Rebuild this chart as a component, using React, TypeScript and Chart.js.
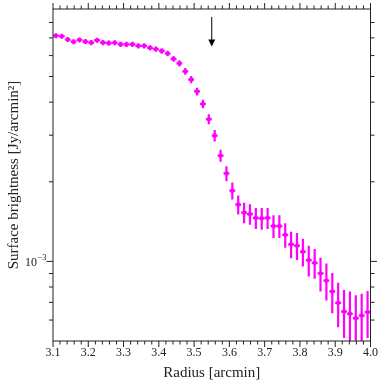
import React, { useEffect, useRef } from 'react';
import { Chart, registerables } from 'chart.js';

Chart.register(...registerables);

// ---- data ----
const RADIUS = [
  3.1083, 3.125, 3.1417, 3.1583, 3.175, 3.1917, 3.2083, 3.225, 3.2417, 3.2583,
  3.275, 3.2917, 3.3083, 3.325, 3.3417, 3.3583, 3.375, 3.3917, 3.4083, 3.425,
  3.4417, 3.4583, 3.475, 3.4917, 3.5083, 3.525, 3.5417, 3.5583, 3.575, 3.5917,
  3.6083, 3.625, 3.6417, 3.6583, 3.675, 3.6917, 3.7083, 3.725, 3.7417, 3.7583,
  3.775, 3.7917, 3.8083, 3.825, 3.8417, 3.8583, 3.875, 3.8917, 3.9083, 3.925,
  3.9417, 3.9583, 3.975, 3.9917,
];
const RADIUS_HALF_BIN = 0.00833;
const BRIGHTNESS = [
  7.13e-3, 7.1e-3, 6.9e-3, 6.77e-3, 6.88e-3, 6.78e-3, 6.72e-3, 6.86e-3, 6.72e-3, 6.69e-3,
  6.71e-3, 6.62e-3, 6.61e-3, 6.62e-3, 6.53e-3, 6.53e-3, 6.42e-3, 6.35e-3, 6.25e-3, 6.11e-3,
  5.83e-3, 5.61e-3, 5.23e-3, 4.87e-3, 4.39e-3, 3.94e-3, 3.45e-3, 2.99e-3, 2.51e-3, 2.15e-3,
  1.85e-3, 1.64e-3, 1.53e-3, 1.51e-3, 1.46e-3, 1.455e-3, 1.46e-3, 1.36e-3, 1.36e-3, 1.26e-3,
  1.16e-3, 1.146e-3, 1.088e-3, 1.011e-3, 0.987e-3, 0.901e-3, 0.846e-3, 0.77e-3, 0.697e-3, 0.646e-3,
  0.634e-3, 0.61e-3, 0.624e-3, 0.643e-3,
];
const BRIGHTNESS_ERR = [
  0.15e-3, 0.15e-3, 0.15e-3, 0.15e-3, 0.15e-3, 0.15e-3, 0.15e-3, 0.15e-3, 0.15e-3, 0.15e-3,
  0.15e-3, 0.15e-3, 0.15e-3, 0.15e-3, 0.15e-3, 0.15e-3, 0.15e-3, 0.15e-3, 0.15e-3, 0.15e-3,
  0.15e-3, 0.15e-3, 0.15e-3, 0.15e-3, 0.148e-3, 0.147e-3, 0.148e-3, 0.15e-3, 0.13e-3, 0.14e-3,
  0.137e-3, 0.135e-3, 0.137e-3, 0.135e-3, 0.133e-3, 0.137e-3, 0.133e-3, 0.135e-3, 0.135e-3, 0.133e-3,
  0.133e-3, 0.133e-3, 0.131e-3, 0.134e-3, 0.128e-3, 0.132e-3, 0.135e-3, 0.133e-3, 0.133e-3, 0.133e-3,
  0.135e-3, 0.134e-3, 0.131e-3, 0.13e-3,
];

const X_MIN = 3.1;
const X_MAX = 4.0;
const Y_MIN = 5e-4;
const Y_MAX = 9e-3;
const X_TICKS = [3.1, 3.2, 3.3, 3.4, 3.5, 3.6, 3.7, 3.8, 3.9, 4.0];
const X_TICK_LABELS = ['3.1', '3.2', '3.3', '3.4', '3.5', '3.6', '3.7', '3.8', '3.9', '4.0'];
const X_MINOR_STEP = 0.02;
const Y_MAJOR_TICKS = [1e-3];
const Y_MAJOR_BASE = ['10'];
const Y_MAJOR_EXP = ['\u22123'];
const Y_MINOR_TICKS = [6e-4, 7e-4, 8e-4, 9e-4, 2e-3, 3e-3, 4e-3, 5e-3, 6e-3, 7e-3, 8e-3];

const ARROW_X = 3.55;
const ARROW_FROM = 8.4e-3;
const ARROW_TO = 6.5e-3;

const X_TITLE = 'Radius [arcmin]';
const Y_TITLE = 'Surface brightness [Jy/arcmin\u00B2]';

const FONT = '"Liberation Serif", "DejaVu Serif", serif';
const MAGENTA = '#ff00ff';
const INK = '#222222';

const decorPlugin = {
  id: 'decor',
  beforeDatasetsDraw(chart: any) {
    const { ctx, chartArea, scales } = chart;
    const xs = scales.x;
    const ys = scales.y;
    ctx.save();
    ctx.beginPath();
    ctx.rect(chartArea.left, chartArea.top, chartArea.right - chartArea.left, chartArea.bottom - chartArea.top);
    ctx.clip();
    ctx.strokeStyle = MAGENTA;
    ctx.lineWidth = 2.2;
    ctx.lineCap = 'butt';
    for (let i = 0; i < RADIUS.length; i++) {
      const x = RADIUS[i];
      const y = BRIGHTNESS[i];
      const e = BRIGHTNESS_ERR[i];
      const px = xs.getPixelForValue(x);
      const py = ys.getPixelForValue(y);
      const x0 = xs.getPixelForValue(x - RADIUS_HALF_BIN);
      const x1 = xs.getPixelForValue(x + RADIUS_HALF_BIN);
      const yTop = ys.getPixelForValue(y + e);
      const yBot = y - e > 0 ? ys.getPixelForValue(y - e) : chartArea.bottom + 5;
      ctx.beginPath();
      ctx.moveTo(x0, py);
      ctx.lineTo(x1, py);
      ctx.moveTo(px, yTop);
      ctx.lineTo(px, yBot);
      ctx.stroke();
    }
    ctx.restore();
  },
  afterDraw(chart: any) {
    const { ctx, chartArea, scales } = chart;
    const xs = scales.x;
    const ys = scales.y;
    const { left, right, top, bottom } = chartArea;
    ctx.save();
    ctx.strokeStyle = INK;
    ctx.lineWidth = 1;
    ctx.strokeRect(left, top, right - left, bottom - top);

    ctx.beginPath();
    const nMinor = Math.round((X_MAX - X_MIN) / X_MINOR_STEP);
    for (let k = 0; k <= nMinor; k++) {
      const v = X_MIN + k * X_MINOR_STEP;
      const px = xs.getPixelForValue(v);
      const len = k % 5 === 0 ? 6 : 3.5;
      ctx.moveTo(px, bottom);
      ctx.lineTo(px, bottom + len);
      ctx.moveTo(px, top);
      ctx.lineTo(px, top - len);
    }
    Y_MAJOR_TICKS.forEach((v) => {
      const py = ys.getPixelForValue(v);
      ctx.moveTo(left, py);
      ctx.lineTo(left - 6.5, py);
      ctx.moveTo(right, py);
      ctx.lineTo(right + 6.5, py);
    });
    Y_MINOR_TICKS.forEach((v) => {
      const py = ys.getPixelForValue(v);
      ctx.moveTo(left, py);
      ctx.lineTo(left - 4, py);
      ctx.moveTo(right, py);
      ctx.lineTo(right + 4, py);
    });
    ctx.stroke();

    ctx.fillStyle = INK;
    Y_MAJOR_TICKS.forEach((v, i) => {
      const py = ys.getPixelForValue(v);
      ctx.font = `12px ${FONT}`;
      ctx.textAlign = 'right';
      ctx.textBaseline = 'middle';
      ctx.fillText(Y_MAJOR_BASE[i], left - 16, py + 1);
      ctx.font = `8.5px ${FONT}`;
      ctx.textAlign = 'left';
      ctx.fillText(Y_MAJOR_EXP[i], left - 15.5, py - 4);
    });

    const ax = xs.getPixelForValue(ARROW_X);
    const ay0 = ys.getPixelForValue(ARROW_FROM);
    const ay1 = ys.getPixelForValue(ARROW_TO);
    ctx.strokeStyle = '#000';
    ctx.fillStyle = '#000';
    ctx.lineWidth = 1;
    ctx.beginPath();
    ctx.moveTo(ax, ay0);
    ctx.lineTo(ax, ay1 - 6);
    ctx.stroke();
    ctx.beginPath();
    ctx.moveTo(ax - 3.5, ay1 - 7);
    ctx.lineTo(ax + 3.5, ay1 - 7);
    ctx.lineTo(ax, ay1);
    ctx.closePath();
    ctx.fill();
    ctx.restore();
  },
};

export default function App() {
  const canvasRef = useRef<HTMLCanvasElement | null>(null);

  useEffect(() => {
    if (!canvasRef.current) return;
    const chart = new Chart(canvasRef.current, {
      type: 'scatter',
      data: {
        datasets: [
          {
            data: RADIUS.map((x, i) => ({ x, y: BRIGHTNESS[i] })),
            pointRadius: 2.2,
            pointBackgroundColor: MAGENTA,
            pointBorderWidth: 0,
            showLine: false,
          },
        ],
      },
      options: {
        animation: false,
        responsive: false,
        devicePixelRatio: 1,
        layout: { padding: { top: 9, right: 10, left: 0, bottom: 0 } },
        plugins: {
          legend: { display: false },
          tooltip: { enabled: false },
          title: { display: false },
        },
        scales: {
          x: {
            type: 'linear',
            min: X_MIN,
            max: X_MAX,
            afterBuildTicks: (s: any) => {
              s.ticks = X_TICKS.map((v) => ({ value: v }));
            },
            afterFit: (s: any) => {
              s.height = 42;
            },
            ticks: {
              autoSkip: false,
              maxRotation: 0,
              padding: 5,
              color: INK,
              font: { family: FONT, size: 12 },
              callback: (v: any) => {
                const idx = X_TICKS.findIndex((t) => Math.abs(t - Number(v)) < 1e-6);
                return idx >= 0 ? X_TICK_LABELS[idx] : '';
              },
            },
            grid: { display: false, drawTicks: false, tickLength: 0 },
            border: { display: false },
            title: {
              display: true,
              text: X_TITLE,
              color: INK,
              font: { family: FONT, size: 15 },
              padding: { top: 0, bottom: 1 },
            },
          },
          y: {
            type: 'logarithmic',
            min: Y_MIN,
            max: Y_MAX,
            afterFit: (s: any) => {
              s.width = 53;
            },
            ticks: { display: false },
            grid: { display: false, drawTicks: false, tickLength: 0 },
            border: { display: false },
            title: {
              display: true,
              text: Y_TITLE,
              color: INK,
              font: { family: FONT, size: 15 },
              padding: { top: 5, bottom: 0 },
            },
          },
        },
      },
      plugins: [decorPlugin],
    } as any);
    return () => chart.destroy();
  }, []);

  return (
    <div style={{ position: 'absolute', left: 0, top: 0, width: 383, height: 383, background: '#fff' }}>
      <canvas ref={canvasRef} width={383} height={383} style={{ display: 'block', width: 383, height: 383 }} />
    </div>
  );
}
